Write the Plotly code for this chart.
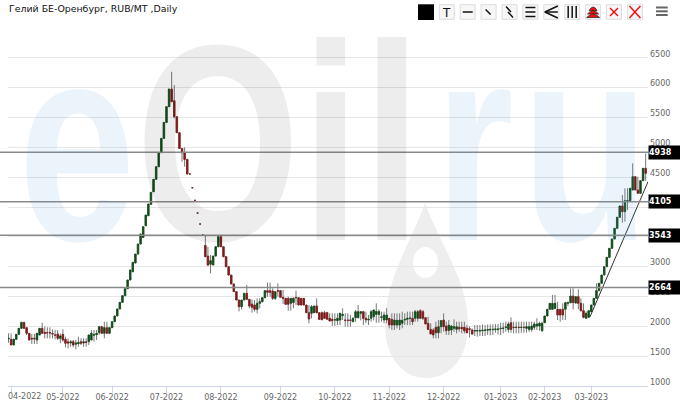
import plotly.graph_objects as go

title_text = "Гелий БЕ-Оренбург, RUB/MT ,Daily"

opens = [
    1790,1782,1687,1782,1866,1966,2067,1978,1883,1800,
    1800,1771,1855,1966,1900,1894,1894,1880,1855,1872,
    1799,1866,1782,1740,1720,1743,1700,1710,1743,1720,
    1740,1743,1771,1850,1860,1894,1994,1883,1978,1883,
    1978,2078,2174,2291,2402,2513,2631,2776,2915,3061,
    3211,3379,3490,3686,3854,4044,4256,4463,4675,4910,
    5150,5418,5681,5977,5781,5513,5245,4982,4910,4798,
    4552,4323,4111,3899,3714,3530,3356,3178,3040,3027,
    3178,3334,3502,3334,3167,3000,2860,2709,2581,2441,
    2329,2441,2553,2452,2374,2357,2285,2385,2413,2480,
    2598,2598,2592,2469,2598,2598,2486,2469,2469,2385,
    2400,2486,2480,2469,2469,2357,2229,2218,2229,2341,
    2229,2229,2229,2229,2134,2117,2106,2095,2106,2180,
    2106,2106,2106,2078,2145,2145,2218,2246,2134,2106,
    2134,2162,2200,2200,2150,2106,2106,2134,2117,2022,
    2022,2022,2050,2106,2117,2134,2134,2134,2134,2262,
    2246,2145,2050,1949,1938,1983,1894,1994,2106,2005,
    1930,1938,1966,1950,1983,1983,1983,1966,1960,1938,
    1920,1920,1920,1925,1930,1935,1940,1945,1945,1945,
    1960,1965,1980,1949,2061,1983,1980,1985,1980,1985,
    1966,1949,1949,1983,2005,2005,1927,2061,2173,2285,
    2285,2300,2285,2285,2285,2285,2385,2397,2508,2390,
    2497,2385,2262,2134,2151,2246,2357,2469,2598,2721,
    2860,3000,3156,3307,3464,3642,3827,4017,3922,4106,
    4106,4285,4508,4285,4229,4441,4648,
]
highs = [
    1883,1883,1790,1866,1966,2067,2067,1978,1883,1872,
    1872,1883,1966,2061,1994,1983,1983,1950,1939,1939,
    1880,1950,1827,1799,1771,1771,1771,1827,1799,1799,
    1799,1855,1939,1939,1939,2006,2006,2078,2078,1978,
    2078,2174,2291,2402,2513,2631,2776,2944,3072,3211,
    3379,3547,3670,3865,4049,4245,4463,4675,4910,5150,
    5418,5681,5977,6267,6044,5513,5245,4982,5000,4798,
    4552,4323,4111,3899,3714,3530,3530,3334,3195,3178,
    3334,3530,3530,3334,3167,3000,2860,2709,2581,2441,
    2441,2553,2693,2452,2452,2441,2469,2469,2480,2598,
    2732,2732,2637,2581,2720,2609,2609,2469,2497,2469,
    2486,2598,2480,2469,2469,2357,2357,2357,2341,2469,
    2229,2250,2260,2246,2218,2218,2218,2218,2229,2301,
    2218,2218,2190,2150,2274,2357,2246,2246,2246,2190,
    2274,2274,2385,2285,2246,2246,2301,2134,2218,2218,
    2218,2218,2246,2218,2246,2246,2246,2274,2274,2285,
    2274,2145,2162,2050,1966,2078,2106,2106,2218,2078,
    2106,2022,2117,2078,2078,2078,2078,2022,2000,1966,
    2022,2022,2022,2030,2022,2030,2030,2035,2039,2039,
    2061,2061,2078,2078,2150,2078,2078,2078,2078,2078,
    2078,2078,2078,2078,2134,2078,2078,2173,2285,2385,
    2525,2525,2413,2285,2385,2397,2413,2637,2637,2497,
    2620,2469,2385,2250,2262,2357,2469,2720,2721,2860,
    3000,3156,3307,3464,3642,3827,4017,4201,4313,4313,
    4313,4732,4508,4508,4441,4648,4899,
]
lows = [
    1726,1687,1687,1782,1866,1966,1966,1855,1771,1704,
    1704,1704,1855,1883,1799,1799,1799,1799,1782,1771,
    1715,1743,1648,1631,1659,1648,1614,1659,1687,1659,
    1659,1687,1771,1743,1771,1855,1883,1799,1883,1883,
    1978,2078,2174,2291,2402,2513,2631,2776,2915,3061,
    3211,3379,3490,3686,3854,4044,4256,4463,4675,4910,
    5150,5418,5681,5765,5485,5245,4982,4759,4675,4552,
    4552,4323,4111,3899,3714,3530,3167,3010,2887,3027,
    3178,3334,3334,3167,3000,2859,2709,2581,2441,2250,
    2280,2441,2441,2300,2229,2246,2218,2301,2400,2480,
    2497,2497,2441,2441,2497,2486,2374,2369,2262,2262,
    2301,2357,2357,2357,2357,2229,2050,2134,2229,2218,
    2117,2106,2134,2106,2078,2006,2006,2022,2022,2106,
    1994,1994,1994,2078,2078,2134,2100,2022,2050,2022,
    2078,2100,2060,2060,2078,2050,2050,1966,1938,1938,
    1966,1938,1966,2022,2022,2022,2022,2078,2078,2134,
    2106,2039,1949,1871,1799,1799,1799,1882,1910,1855,
    1855,1855,1910,1882,1910,1882,1882,1882,1810,1855,
    1838,1827,1838,1838,1838,1855,1850,1855,1894,1865,
    1855,1882,1910,1894,1894,1882,1882,1882,1894,1894,
    1894,1910,1910,1938,1938,1927,1910,2061,2173,2285,
    2285,2285,2106,2078,2106,2106,2340,2385,2285,2385,
    2285,2246,2134,2134,2151,2246,2357,2469,2598,2721,
    2860,3000,3156,3307,3464,3642,3827,3737,3754,3950,
    4106,4285,4285,4229,4229,4441,4441,
]
closes = [
    1800,1687,1782,1866,1966,2067,1966,1883,1771,1790,
    1790,1883,1966,1883,1880,1890,1890,1870,1850,1799,
    1840,1771,1715,1720,1740,1687,1720,1730,1715,1740,
    1730,1855,1883,1860,1880,1994,1883,1978,1883,1978,
    2078,2174,2291,2402,2513,2631,2776,2944,3072,3211,
    3379,3547,3670,3865,4049,4245,4463,4675,4910,5150,
    5418,5681,5977,5765,5513,5245,4982,4910,4798,4552,
    4552,4323,4111,3899,3714,3530,3167,3027,3100,3178,
    3334,3502,3334,3167,3000,2859,2709,2581,2441,2329,
    2441,2553,2452,2340,2318,2285,2385,2413,2480,2598,
    2570,2570,2469,2581,2590,2486,2469,2369,2369,2469,
    2469,2480,2357,2357,2357,2229,2123,2329,2341,2229,
    2117,2110,2134,2120,2090,2095,2110,2134,2218,2200,
    2100,2100,2100,2134,2246,2246,2246,2134,2106,2117,
    2246,2274,2250,2250,2160,2190,2190,2022,2022,2106,
    2100,2106,2100,2117,2134,2140,2078,2246,2246,2134,
    2134,2039,1949,1871,1855,1894,1994,2095,1994,1927,
    2020,2005,1994,1994,1960,1960,1927,1894,1949,1871,
    1930,1930,1930,1935,1940,1945,1950,1950,1955,1955,
    1965,1970,1990,2039,1949,1980,1985,1980,1985,1980,
    1994,1994,2005,2039,2039,2050,2050,2173,2285,2385,
    2385,2385,2190,2190,2190,2397,2400,2508,2397,2497,
    2385,2262,2151,2218,2262,2357,2469,2598,2721,2860,
    3000,3156,3307,3464,3642,3827,4017,3922,4106,4110,
    4313,4508,4285,4229,4441,4648,4564,
]
assert len(opens) == len(highs) == len(lows) == len(closes) == 247

month_ticks = [1, 21, 40, 61, 82, 105, 126, 147, 168, 190, 207, 225]
month_labels = ["04-2022", "05-2022", "06-2022", "07-2022", "08-2022", "09-2022",
                "10-2022", "11-2022", "12-2022", "01-2023", "02-2023", "03-2023"]
price_ticks = [1000, 1500, 2000, 2500, 3000, 3500, 4000, 4500, 5000, 5500, 6000, 6500, 7000]
level_labels = ["4938", "4105", "3543", "2664"]
level_lines = [4919, 4087, 3527, 2649]
trend_x = [224.5, 246.9]
trend_y = [2158, 4424]

W, H = 680, 404
L, R, T, B = 8, 648, 28, 386
def px(x): return (x - L) / (R - L)
def py(y): return (B - y) / (B - T)

FONT = "DejaVu Sans"
GREEN_BODY, RED_BODY = "#0b4f14", "#8a1414"
xs = list(range(len(opens)))
fig = go.Figure()
fig.add_trace(go.Candlestick(
    x=xs, open=opens, high=highs, low=lows, close=closes,
    increasing=dict(line=dict(color="#777777", width=1), fillcolor="#777777"),
    decreasing=dict(line=dict(color="#777777", width=1), fillcolor="#777777"),
    whiskerwidth=0, hoverinfo="skip", showlegend=False))
fig.add_trace(go.Candlestick(
    x=xs, open=opens, close=closes,
    high=[max(o, c) for o, c in zip(opens, closes)],
    low=[min(o, c) for o, c in zip(opens, closes)],
    increasing=dict(line=dict(color=GREEN_BODY, width=0.5), fillcolor=GREEN_BODY),
    decreasing=dict(line=dict(color=RED_BODY, width=0.5), fillcolor=RED_BODY),
    whiskerwidth=0, hoverinfo="skip", showlegend=False))
fig.add_trace(go.Scatter(x=trend_x, y=trend_y, mode="lines",
                         line=dict(color="#333333", width=1), hoverinfo="skip", showlegend=False))

shapes, annos = [], []
for ly, lab in zip(level_lines, level_labels):
    shapes.append(dict(type="line", xref="paper", yref="y", x0=px(0), x1=1, y0=ly, y1=ly,
                       line=dict(color="#8a8a8a", width=1.5)))
    annos.append(dict(xref="paper", yref="y", x=1, y=ly, xanchor="left", yanchor="middle",
                      text=lab, showarrow=False, width=32, height=13, align="left",
                      bgcolor="#000000", borderpad=0,
                      font=dict(family=FONT, size=8, color="#ffffff", weight=700)))

BLUE = "rgba(70,150,220,0.10)"
GRAY = "rgba(0,0,0,0.07)"
for ch, cx, col in [("e", 76.5, BLUE), ("O", 217.5, GRAY), ("i", 331, GRAY),
                    ("l", 392, GRAY), ("r", 474, BLUE), ("u", 585, BLUE)]:
    annos.append(dict(xref="paper", yref="paper", x=px(cx), y=py(143), xanchor="center", yanchor="middle",
                      text=ch, showarrow=False,
                      font=dict(family="Liberation Sans", size=280, color=col, weight=700)))
def drop_path():
    d = "M %.4f,%.4f " % (px(425), py(203))
    d += "C %.4f,%.4f %.4f,%.4f %.4f,%.4f " % (px(410), py(245), px(385), py(280), px(385), py(325))
    d += "C %.4f,%.4f %.4f,%.4f %.4f,%.4f " % (px(385), py(360), px(405), py(378), px(426), py(378))
    d += "C %.4f,%.4f %.4f,%.4f %.4f,%.4f " % (px(450), py(378), px(468), py(358), px(468), py(325))
    d += "C %.4f,%.4f %.4f,%.4f %.4f,%.4f Z" % (px(468), py(280), px(440), py(245), px(425), py(203))
    return d
shapes.append(dict(type="path", xref="paper", yref="paper", path=drop_path(), fillcolor="#eeeeee",
                   line=dict(width=0), layer="below"))
shapes.append(dict(type="circle", xref="paper", yref="paper", x0=px(413), x1=px(438), y0=py(278), y1=py(247),
                   fillcolor="#ffffff", line=dict(width=0), layer="below"))

annos.append(dict(xref="paper", yref="paper", x=px(24.5), y=py(396), xanchor="center", yanchor="middle",
                  text=month_labels[0], showarrow=False, font=dict(family=FONT, size=8, color="#666666")))
annos.append(dict(xref="paper", yref="paper", x=px(7), y=py(9), xanchor="left", yanchor="middle",
                  text=title_text, showarrow=False, font=dict(family=FONT, size=9.4, color="#111111")))

def seg(x0, y0, x1, y1, color="#111111", w=1.5):
    shapes.append(dict(type="line", xref="paper", yref="paper", x0=px(x0), y0=py(y0), x1=px(x1), y1=py(y1),
                       line=dict(color=color, width=w)))
shapes.append(dict(type="rect", xref="paper", yref="paper", x0=px(418), x1=px(434), y0=py(20), y1=py(4.3),
                   fillcolor="#000000", line=dict(width=0)))
bx = [439.3 + 20.9 * k for k in range(10)]
for b in bx:
    shapes.append(dict(type="rect", xref="paper", yref="paper", x0=px(b), x1=px(b + 15), y0=py(19.3), y1=py(4.7),
                       fillcolor="#f7f7f7", line=dict(color="#dddddd", width=1)))
annos.append(dict(xref="paper", yref="paper", x=px(bx[0] + 7.5), y=py(12.5), xanchor="center", yanchor="middle",
                  text="T", showarrow=False, font=dict(family=FONT, size=12, color="#111111")))
seg(bx[1] + 2.5, 12, bx[1] + 12.5, 12)
seg(bx[2] + 4.5, 9.5, bx[2] + 9.5, 14.5)
seg(bx[3] + 4, 6.5, bx[3] + 9, 12); seg(bx[3] + 6, 12, bx[3] + 11, 17.5)
for yy in (7.5, 12, 16.5): seg(bx[4] + 2.5, yy, bx[4] + 12.5, yy)
seg(bx[5] + 1, 12, bx[5] + 14, 6); seg(bx[5] + 1, 12, bx[5] + 14, 12); seg(bx[5] + 1, 12, bx[5] + 14, 18)
for xx in (3.5, 7.5, 11.5): seg(bx[6] + xx, 6, bx[6] + xx, 18)
for yy, hw in ((8.5, 4), (12, 5.5), (15.5, 6.5)):
    shapes.append(dict(type="path", xref="paper", yref="paper",
                       path="M %.4f,%.4f Q %.4f,%.4f %.4f,%.4f Z" % (px(bx[7] + 7.5 - hw), py(yy + 2), px(bx[7] + 7.5), py(yy - 5), px(bx[7] + 7.5 + hw), py(yy + 2)),
                       fillcolor="#ee1111", line=dict(color="#222222", width=0.7)))
seg(bx[8] + 3.5, 8, bx[8] + 11.5, 16, "#ee1111", 1.5); seg(bx[8] + 3.5, 16, bx[8] + 11.5, 8, "#ee1111", 1.5)
seg(bx[9] + 2, 6, bx[9] + 13, 18, "#ee1111", 1.5); seg(bx[9] + 2, 18, bx[9] + 13, 6, "#ee1111", 1.5)
for yy in (7.5, 11.3, 15): seg(656, yy, 667.7, yy, "#666666", 2)

fig.update_layout(
    width=W, height=H, margin=dict(l=L, r=W - R, t=T, b=H - B, autoexpand=False),
    paper_bgcolor="#ffffff", plot_bgcolor="rgba(0,0,0,0)", showlegend=False, boxgap=0.2,
    shapes=shapes, annotations=annos,
    xaxis=dict(range=[-0.19, 246.9], rangeslider=dict(visible=False), showgrid=False, zeroline=False,
               tickmode="array", tickvals=month_ticks, ticktext=[""] + month_labels[1:],
               ticks="outside", ticklen=6, tickwidth=1, tickcolor="#ccd6eb",
               showline=True, linecolor="#ccd6eb", linewidth=1, ticklabelstandoff=-3,
               tickfont=dict(family=FONT, size=8, color="#666666")),
    yaxis=dict(side="right", range=[1000, 7000], showgrid=True, gridcolor="#e6e6e6", gridwidth=1,
               zeroline=False, showline=False, ticks="", tickmode="array", tickvals=price_ticks,
               ticktext=[str(v) for v in price_ticks[:-1]] + [""], ticklabelshift=-4, ticklabelstandoff=1,
               tickfont=dict(family=FONT, size=8, color="#666666")),
)
post = """
document.body.style.margin='0';document.body.style.overflow='hidden';
var wm={e:117,O:164,i:58,l:58,r:78,u:128};
document.querySelectorAll('.annotation-text').forEach(function(t){
  if(parseFloat(t.style.fontSize)>100 && wm[t.textContent]){
    t.setAttribute('textLength',wm[t.textContent]);
    t.setAttribute('lengthAdjust','spacingAndGlyphs');
  }
});
"""
fig.write_html("out.html", post_script=post, config=dict(displayModeBar=False))
